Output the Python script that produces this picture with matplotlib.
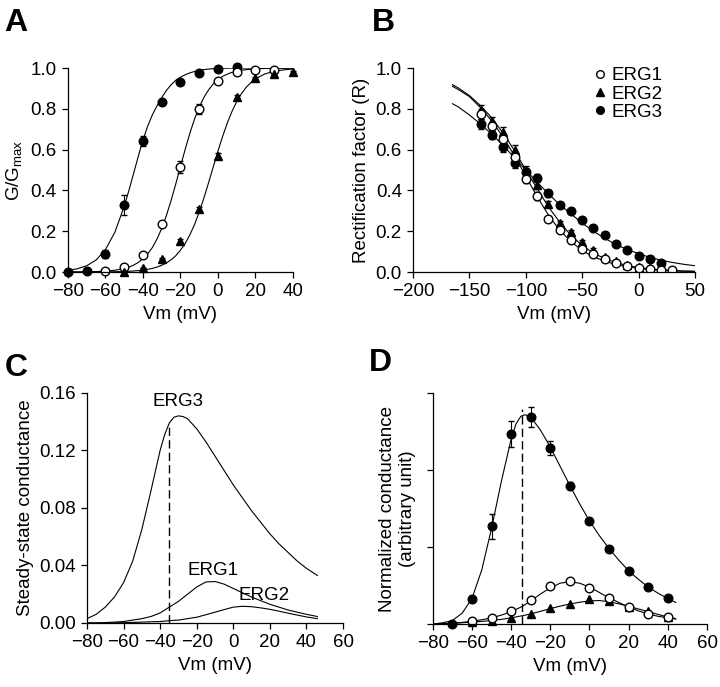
import matplotlib
matplotlib.use("Agg")
import matplotlib.pyplot as plt

plt.rcParams['font.family'] = ['Liberation Sans', 'DejaVu Sans']
plt.rcParams['mathtext.fontset'] = 'custom'
plt.rcParams['mathtext.rm'] = 'Liberation Sans'
plt.rcParams['font.size'] = 13

# ---- Panel A: activation (G/Gmax) ----
a_v = [-80, -70, -60, -50, -40, -30, -20, -10, 0, 10, 20, 30, 40]
a_erg3 = [0.0, 0.003, 0.087, 0.33, 0.642, 0.835, 0.93, 0.977, 0.997, 1.005]
a_erg3_err = [0, 0, 0.02, 0.05, 0.025, 0.01, 0.01, 0.005, 0.005, 0.005]
a_erg1 = [0.005, 0.025, 0.085, 0.234, 0.516, 0.80, 0.938, 0.979, 0.989, 0.989]
a_erg1_err = [0, 0, 0.005, 0.01, 0.03, 0.025, 0.01, 0.005, 0.005, 0.005]
a_erg2 = [0.0, 0.02, 0.065, 0.15, 0.31, 0.57, 0.86, 0.95, 0.97, 0.98]
a_erg2_err = [0, 0, 0.005, 0.01, 0.01, 0.015, 0.01, 0.005, 0.005, 0.005]
# fitted curves
a_fit_v = [-80, -75, -70, -65, -60, -55, -50, -47.5, -45, -42.5, -40, -37.5, -35, -32.5, -30,
           -27.5, -25, -22.5, -20, -17.5, -15, -12.5, -10, -7.5, -5, -2.5, 0, 2.5, 5, 7.5,
           10, 12.5, 15, 17.5, 20, 25, 30, 35, 40]
a_fit_erg3 = [0.008, 0.016, 0.031, 0.059, 0.11, 0.195, 0.322, 0.40, 0.483, 0.567, 0.647,
              0.715, 0.77, 0.815, 0.855, 0.89, 0.918, 0.94, 0.955, 0.967, 0.976, 0.983,
              0.988, 0.992, 0.995, 0.997, 0.998, 0.999, 0.999, 1.0, 1.0, 1.0, 1.0, 1.0, 1.0,
              1.0, 1.0, 1.0, 1.0]
a_fit_erg1 = [0.0003, 0.0006, 0.001, 0.0022, 0.0045, 0.0088, 0.0173, 0.024, 0.034, 0.047,
              0.065, 0.089, 0.12, 0.162, 0.214, 0.277, 0.351, 0.432, 0.517, 0.601, 0.68,
              0.75, 0.808, 0.856, 0.893, 0.922, 0.943, 0.959, 0.97, 0.979, 0.985, 0.989,
              0.992, 0.994, 0.996, 0.998, 0.999, 0.999, 1.0]
a_fit_erg2 = [0.0001, 0.0001, 0.0002, 0.0004, 0.0008, 0.0015, 0.0028, 0.0038, 0.0052, 0.0071,
              0.0097, 0.0132, 0.018, 0.0244, 0.033, 0.0447, 0.06, 0.08, 0.107, 0.14, 0.182,
              0.233, 0.294, 0.363, 0.438, 0.516, 0.593, 0.665, 0.731, 0.788, 0.835, 0.874,
              0.905, 0.928, 0.947, 0.971, 0.984, 0.991, 0.995]

# ---- Panel B: rectification factor ----
b_v = [-140, -130, -120, -110, -100, -90, -80, -70, -60, -50, -40, -30, -20, -10, 0, 10, 20, 30]
b_erg1 = [0.775, 0.716, 0.65, 0.565, 0.454, 0.374, 0.262, 0.205, 0.156, 0.115, 0.087, 0.062,
          0.044, 0.03, 0.021, 0.015, 0.008, 0.008]
b_erg2 = [0.795, 0.738, 0.684, 0.60, 0.50, 0.426, 0.333, 0.24, 0.197, 0.148, 0.11, 0.075,
          0.052, 0.036, 0.025, 0.018, 0.012, 0.009]
b_erg3 = [0.725, 0.672, 0.615, 0.533, 0.492, 0.459, 0.385, 0.328, 0.30, 0.254, 0.216, 0.18,
          0.139, 0.107, 0.079, 0.066, 0.046]
b_err = [0.025, 0.02, 0.025, 0.025, 0.02, 0.02, 0.015, 0.01, 0.01, 0.01, 0.01, 0.005,
         0.005, 0.005, 0.005, 0.005, 0.005, 0.005]
b_fit_v = [-165, -160, -150, -140, -130, -120, -110, -100, -90, -80, -70, -60, -50, -40,
           -30, -20, -10, 0, 10, 20, 30, 40, 50]
b_fit_erg1 = [0.91, 0.895, 0.86, 0.805, 0.74, 0.66, 0.57, 0.47, 0.37, 0.28, 0.205, 0.15,
              0.105, 0.075, 0.053, 0.037, 0.026, 0.018, 0.012, 0.009, 0.006, 0.004, 0.003]
b_fit_erg2 = [0.918, 0.903, 0.865, 0.815, 0.755, 0.68, 0.595, 0.50, 0.41, 0.32, 0.245, 0.18,
              0.13, 0.093, 0.066, 0.046, 0.032, 0.022, 0.015, 0.011, 0.008, 0.005, 0.004]
b_fit_erg3 = [0.825, 0.81, 0.77, 0.725, 0.675, 0.62, 0.56, 0.50, 0.44, 0.385, 0.33, 0.285,
              0.24, 0.20, 0.165, 0.135, 0.11, 0.09, 0.072, 0.058, 0.047, 0.038, 0.031]

# ---- Panel C: steady-state conductance ----
c_v = [-80, -75, -70, -65, -60, -55, -50, -45, -40, -37.5, -35, -32.5, -30, -27.5, -25, -20,
       -15, -10, -5, 0, 5, 10, 15, 20, 25, 30, 35, 40, 46]
c_erg3 = [0.003, 0.006, 0.011, 0.018, 0.028, 0.043, 0.065, 0.092, 0.12, 0.131, 0.139, 0.143,
          0.144, 0.1435, 0.142, 0.135, 0.126, 0.116, 0.106, 0.096, 0.087, 0.078, 0.07, 0.062,
          0.055, 0.049, 0.043, 0.038, 0.033]
c_erg1 = [0.0, 0.0, 0.0003, 0.0006, 0.001, 0.002, 0.003, 0.0045, 0.007, 0.009, 0.011, 0.013,
          0.015, 0.0175, 0.02, 0.025, 0.0285, 0.0288, 0.027, 0.024, 0.021, 0.018, 0.0155,
          0.013, 0.011, 0.009, 0.0075, 0.006, 0.0045]
c_erg2 = [0.0, 0.0, 0.0, 0.0001, 0.0002, 0.0004, 0.0006, 0.0008, 0.001, 0.0013, 0.0016, 0.0018,
          0.002, 0.0025, 0.003, 0.004, 0.0057, 0.0075, 0.0093, 0.011, 0.0116, 0.0113, 0.0105,
          0.0095, 0.0082, 0.0068, 0.0055, 0.0042, 0.003]
c_peak_v = -35

# ---- Panel D: normalized conductance ----
d_v = [-70, -60, -50, -40, -30, -20, -10, 0, 10, 20, 30, 40]
d_erg3 = [0.0, 0.325, 1.27, 2.47, 2.69, 2.29, 1.80, 1.34, 0.98, 0.69, 0.476, 0.333]
d_erg3_err = [0.01, 0.04, 0.16, 0.17, 0.13, 0.09, 0.05, 0.04, 0.03, 0.03, 0.02, 0.02]
d_erg1 = [0.0, 0.043, 0.078, 0.165, 0.307, 0.49, 0.554, 0.468, 0.333, 0.22, 0.13, 0.09]
d_erg2 = [0.0, 0.02, 0.043, 0.078, 0.134, 0.21, 0.264, 0.325, 0.294, 0.22, 0.165, 0.09]
d_fit_v = [-80, -75, -70, -65, -60, -55, -50, -45, -40, -37.5, -35, -33, -30, -25, -20, -15,
           -10, -5, 0, 5, 10, 15, 20, 25, 30, 35, 40, 44]
d_fit_erg3 = [0.0, 0.015, 0.045, 0.14, 0.33, 0.7, 1.24, 1.85, 2.4, 2.6, 2.7, 2.72, 2.69, 2.52,
              2.3, 2.05, 1.8, 1.56, 1.34, 1.15, 0.98, 0.83, 0.69, 0.58, 0.48, 0.40, 0.33, 0.28]
d_fit_erg1 = [0.0, 0.005, 0.01, 0.02, 0.035, 0.055, 0.08, 0.115, 0.16, 0.19, 0.22, 0.25, 0.3,
              0.39, 0.47, 0.53, 0.55, 0.53, 0.48, 0.41, 0.34, 0.28, 0.22, 0.17, 0.13, 0.10,
              0.08, 0.065]
d_fit_erg2 = [0.0, 0.005, 0.01, 0.017, 0.025, 0.034, 0.045, 0.06, 0.08, 0.092, 0.104, 0.114,
              0.13, 0.165, 0.2, 0.232, 0.26, 0.283, 0.3, 0.305, 0.29, 0.262, 0.23, 0.195,
              0.16, 0.125, 0.09, 0.07]
d_peak_v = -34.6
d_peak_top = 2.8

fig = plt.figure(figsize=(7.2, 6.87), dpi=100)

open_c = dict(marker='o', mfc='white', mec='black', ms=6.2, ls='none', mew=1.0)
fill_c = dict(marker='o', mfc='black', mec='black', ms=6.2, ls='none')
tri = dict(marker='^', mfc='black', mec='black', ms=6.2, ls='none')
line = dict(color='black', lw=0.8)
LBL = 13.5


def style(ax):
    for s in ['top', 'right']:
        ax.spines[s].set_visible(False)
    for s in ['left', 'bottom']:
        ax.spines[s].set_linewidth(0.9)
    ax.tick_params(direction='out', length=4, width=0.9, labelsize=LBL, pad=4)


# Panel A
ax = fig.add_axes([0.0944, 0.604, 0.3125, 0.297])
ax.plot(a_fit_v, a_fit_erg3, **line)
ax.plot(a_fit_v, a_fit_erg1, **line)
ax.plot(a_fit_v, a_fit_erg2, **line)
ax.errorbar(a_v[:len(a_erg3)], a_erg3, yerr=a_erg3_err, color='black', elinewidth=0.8,
            capsize=2, clip_on=False, **fill_c)
ax.errorbar(a_v[2:2 + len(a_erg1)], a_erg1, yerr=a_erg1_err, color='black', elinewidth=0.8,
            capsize=2, clip_on=False, **open_c)
ax.errorbar(a_v[3:3 + len(a_erg2)], a_erg2, yerr=a_erg2_err, color='black', elinewidth=0.8,
            capsize=2, clip_on=False, **tri)
ax.set_xlim(-80, 40)
ax.set_ylim(0, 1.0)
ax.set_xticks([-80, -60, -40, -20, 0, 20, 40])
ax.set_yticks([0, 0.2, 0.4, 0.6, 0.8, 1.0])
ax.set_yticklabels(['0.0', '0.2', '0.4', '0.6', '0.8', '1.0'])
ax.set_xlabel('Vm (mV)', fontsize=LBL)
ax.set_ylabel(r'G/G$_{\mathrm{max}}$', fontsize=LBL)
style(ax)
fig.text(0.006, 0.955, 'A', fontsize=23, fontweight='bold')

# Panel B
ax = fig.add_axes([0.5736, 0.604, 0.3917, 0.297])
ax.plot(b_fit_v, b_fit_erg1, **line)
ax.plot(b_fit_v, b_fit_erg2, **line)
ax.plot(b_fit_v, b_fit_erg3, **line)
ax.errorbar(b_v, b_erg2, yerr=b_err, color='black', elinewidth=0.8, capsize=2, **tri)
ax.errorbar(b_v[:len(b_erg3)], b_erg3, yerr=b_err[:len(b_erg3)], color='black',
            elinewidth=0.8, capsize=2, **fill_c)
ax.errorbar(b_v, b_erg1, yerr=b_err, color='black', elinewidth=0.8, capsize=2, **open_c)
ax.set_xlim(-200, 50)
ax.set_ylim(0, 1.0)
ax.set_xticks([-200, -150, -100, -50, 0, 50])
ax.set_yticks([0, 0.2, 0.4, 0.6, 0.8, 1.0])
ax.set_yticklabels(['0.0', '0.2', '0.4', '0.6', '0.8', '1.0'])
ax.set_xlabel('Vm (mV)', fontsize=LBL)
ax.set_ylabel('Rectification factor (R)', fontsize=LBL)
h1, = ax.plot([], [], marker='o', mfc='white', mec='black', ms=5.5, ls='none')
h2, = ax.plot([], [], marker='^', mfc='black', mec='black', ms=5.5, ls='none')
h3, = ax.plot([], [], marker='o', mfc='black', mec='black', ms=5.5, ls='none')
ax.legend([h1, h2, h3], ['ERG1', 'ERG2', 'ERG3'], loc='upper left', frameon=False,
          fontsize=LBL, handletextpad=0.2, labelspacing=0.05, borderaxespad=0.0,
          bbox_to_anchor=(0.61, 1.04), handlelength=0.8)
style(ax)
fig.text(0.516, 0.955, 'B', fontsize=23, fontweight='bold')

# Panel C
ax = fig.add_axes([0.1208, 0.0932, 0.3556, 0.335])
ax.plot(c_v, c_erg3, **line)
ax.plot(c_v, c_erg1, **line)
ax.plot(c_v, c_erg2, **line)
ax.plot([c_peak_v, c_peak_v], [0, c_erg3[c_v.index(c_peak_v)]], color='black', lw=1.0,
        ls=(0, (6, 3)))
ax.text(-30, 0.148, 'ERG3', ha='center', va='bottom', fontsize=LBL)
ax.text(-11, 0.0305, 'ERG1', ha='center', va='bottom', fontsize=LBL)
ax.text(17, 0.0135, 'ERG2', ha='center', va='bottom', fontsize=LBL)
ax.set_xlim(-80, 60)
ax.set_ylim(0, 0.16)
ax.set_xticks([-80, -60, -40, -20, 0, 20, 40, 60])
ax.set_yticks([0, 0.04, 0.08, 0.12, 0.16])
ax.set_yticklabels(['0.00', '0.04', '0.08', '0.12', '0.16'])
ax.set_xlabel('Vm (mV)', fontsize=LBL)
ax.set_ylabel('Steady-state conductance', fontsize=LBL)
style(ax)
fig.text(0.006, 0.453, 'C', fontsize=23, fontweight='bold')

# Panel D
ax = fig.add_axes([0.601, 0.0917, 0.381, 0.336])
ax.plot(d_fit_v, d_fit_erg3, **line)
ax.plot(d_fit_v, d_fit_erg1, **line)
ax.plot(d_fit_v, d_fit_erg2, **line)
ax.plot([d_peak_v, d_peak_v], [0, d_peak_top], color='black', lw=1.0, ls=(0, (6, 3)))
ax.plot(d_v[1:], d_erg2[1:], clip_on=False, **tri)
ax.plot(d_v[1:], d_erg1[1:], clip_on=False, **open_c)
ax.errorbar(d_v, d_erg3, yerr=d_erg3_err, color='black', elinewidth=0.8, capsize=2.5,
            clip_on=False, **fill_c)
ax.set_xlim(-80, 60)
ax.set_ylim(0, 3)
ax.set_xticks([-80, -60, -40, -20, 0, 20, 40, 60])
ax.set_yticks([0, 1, 2, 3])
ax.set_yticklabels([])
ax.set_xlabel('Vm (mV)', fontsize=LBL)
ax.set_ylabel('Normalized conductance\n(arbitrary unit)', fontsize=LBL)
style(ax)
fig.text(0.513, 0.46, 'D', fontsize=23, fontweight='bold')

fig.savefig('out.png', dpi=100)
